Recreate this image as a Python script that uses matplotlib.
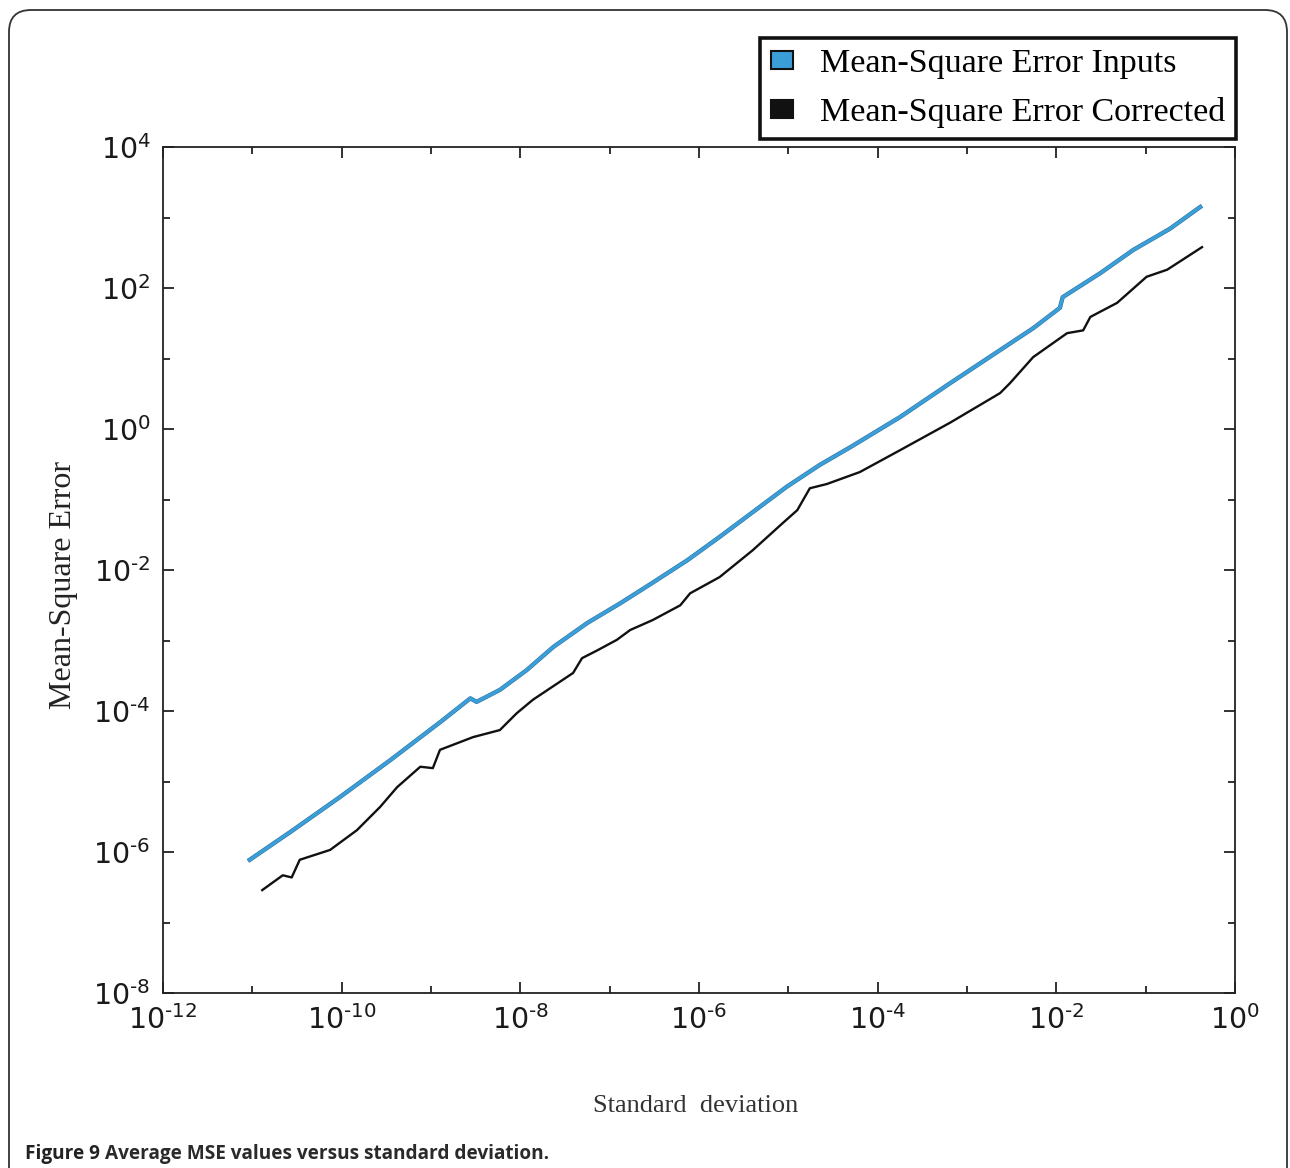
import matplotlib
matplotlib.use("Agg")
import numpy as np
import matplotlib.pyplot as plt
import matplotlib.patheffects as pe
from matplotlib.patches import Patch, FancyBboxPatch
from matplotlib.ticker import FixedLocator, FixedFormatter, NullFormatter
from matplotlib.transforms import IdentityTransform

# values, as log10 exponents
inputs_std_exp = [-11.03, -10.58, -10.02, -9.46, -8.90, -8.56, -8.49, -8.23, -7.93,
                  -7.63, -7.25, -6.88, -6.52, -6.13, -5.77, -5.40, -5.02, -4.65,
                  -4.31, -3.75, -3.19, -2.63, -2.26, -1.96, -1.93, -1.51, -1.14,
                  -0.73, -0.39]
inputs_mse_exp = [-6.11, -5.72, -5.22, -4.70, -4.16, -3.82, -3.87, -3.70, -3.42,
                  -3.09, -2.75, -2.47, -2.18, -1.86, -1.53, -1.18, -0.82, -0.51,
                  -0.26, 0.17, 0.65, 1.12, 1.43, 1.72, 1.87, 2.21, 2.54,
                  2.84, 3.15]

corr_std_exp = [-10.89, -10.66, -10.56, -10.47, -10.13, -9.83, -9.57, -9.38, -9.12,
                -8.98, -8.90, -8.53, -8.23, -8.04, -7.86, -7.41, -7.31, -7.14,
                -6.92, -6.77, -6.52, -6.21, -6.10, -5.77, -5.40, -5.06, -4.90,
                -4.76, -4.57, -4.20, -3.75, -3.19, -2.63, -2.52, -2.26, -1.88,
                -1.70, -1.62, -1.32, -0.99, -0.76, -0.37]
corr_mse_exp = [-6.54, -6.33, -6.36, -6.11, -5.97, -5.69, -5.36, -5.08, -4.79,
                -4.81, -4.55, -4.37, -4.27, -4.03, -3.84, -3.46, -3.25, -3.14,
                -2.99, -2.85, -2.71, -2.50, -2.33, -2.10, -1.72, -1.33, -1.15,
                -0.84, -0.78, -0.61, -0.30, 0.09, 0.51, 0.65, 1.02, 1.36,
                1.40, 1.59, 1.79, 2.16, 2.26, 2.58]

x_major = [-12, -10, -8, -6, -4, -2, 0]
x_minor = [-11, -9, -7, -5, -3, -1]
y_major = [-8, -6, -4, -2, 0, 2, 4]
y_minor = [-7, -5, -3, -1, 1, 3]

legend_labels = ["Mean-Square Error Inputs", "Mean-Square Error Corrected"]
blue = "#3a9fd8"

plt.rcParams['mathtext.fontset'] = 'custom'
plt.rcParams['mathtext.rm'] = 'Liberation Sans'
plt.rcParams['mathtext.it'] = 'Liberation Sans'

fig = plt.figure(figsize=(12.9, 11.68), dpi=100)
ax = fig.add_axes([0.1264, 0.1498, 0.8310, 0.7243])

x_in = 10.0 ** np.array(inputs_std_exp)
y_in = 10.0 ** np.array(inputs_mse_exp)
x_co = 10.0 ** np.array(corr_std_exp)
y_co = 10.0 ** np.array(corr_mse_exp)

ax.plot(x_co, y_co, color='#111111', lw=1.7, zorder=3)
ax.plot(x_in, y_in, color=blue, lw=2.4, zorder=4,
        path_effects=[pe.Stroke(linewidth=3.1, foreground='#2f6d99'), pe.Normal()])

ax.set_xscale('log')
ax.set_yscale('log')
ax.set_xlim(1e-12, 1e0)
ax.set_ylim(1e-8, 1e4)

def sci(exps):
    # plain hyphen in the exponent, as in the source figure
    return [r'$\mathregular{10^{%s}}$' % str(e).replace('-', '\u2010') for e in exps]

ax.xaxis.set_major_locator(FixedLocator([10.0 ** e for e in x_major]))
ax.xaxis.set_major_formatter(FixedFormatter(sci(x_major)))
ax.xaxis.set_minor_locator(FixedLocator([10.0 ** e for e in x_minor]))
ax.xaxis.set_minor_formatter(NullFormatter())
ax.yaxis.set_major_locator(FixedLocator([10.0 ** e for e in y_major]))
ax.yaxis.set_major_formatter(FixedFormatter(sci(y_major)))
ax.yaxis.set_minor_locator(FixedLocator([10.0 ** e for e in y_minor]))
ax.yaxis.set_minor_formatter(NullFormatter())

ax.tick_params(which='both', direction='in', top=True, right=True,
               color='#222222', width=1.3)
ax.tick_params(which='major', length=8, labelsize=20.5, pad=9,
               labelcolor='#1a1a1a')
ax.tick_params(which='minor', length=5)
for s in ax.spines.values():
    s.set_linewidth(1.3)
    s.set_color('#222222')

ax.set_ylabel("Mean-Square Error", family='Liberation Serif', fontsize=23,
              color='#222222')
ax.yaxis.set_label_coords(-0.079, 0.482)
ax.set_xlabel("Standard  deviation", family='Liberation Serif', fontsize=19,
              color='#333333')
ax.xaxis.set_label_coords(0.497, -0.121)

handles = [Patch(facecolor=blue, edgecolor='#111111', lw=1.5),
           Patch(facecolor='#111111', edgecolor='#111111', lw=1.5)]
leg = fig.legend(handles, legend_labels, loc='upper right',
                 bbox_to_anchor=(1236 / 1290, 1 - 38 / 1168),
                 prop={'family': 'Liberation Serif', 'size': 24.5},
                 frameon=True, fancybox=False, framealpha=1,
                 edgecolor='#111111', borderpad=0.32, borderaxespad=0,
                 handlelength=0.65, handleheight=0.42, handletextpad=0.8,
                 labelspacing=0.52)
leg.get_frame().set_linewidth(2.6)
leg.set_zorder(10)

# rounded frame round the whole figure
frame = FancyBboxPatch((9, -40), 1278, 1158 + 40, boxstyle="round,pad=0,rounding_size=22",
                       transform=IdentityTransform(), fill=False,
                       edgecolor='#333333', lw=1.3)
fig.patches.append(frame)

cap1 = fig.text(25 / 1290, 1 - 1164 / 1168, "Figure 9", family='Open Sans',
                weight='bold', fontsize=13.7, color='#222222', va='bottom')
ax.annotate("Average MSE values versus standard deviation.", xy=(1, 0),
            xycoords=cap1, xytext=(5, 0), textcoords='offset pixels',
            family='Open Sans', weight='bold', fontsize=13.7,
            color='#2a2a2a', va='bottom', ha='left', annotation_clip=False)

fig.savefig("out.png", dpi=100)
